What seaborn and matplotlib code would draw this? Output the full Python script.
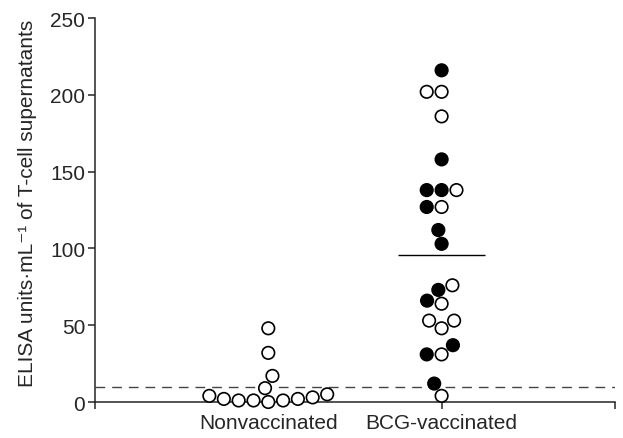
import numpy as np
import pandas as pd
import seaborn as sns
import matplotlib.pyplot as plt

# ELISA units per mL
groups = ['Nonvaccinated', 'BCG-vaccinated']
nonvac_open = [48, 32, 17, 9, 5, 4, 3, 2, 2, 1, 1, 1, 0]
bcg_filled = [216, 158, 138, 138, 127, 112, 103, 73, 66, 37, 31, 12]
bcg_open = [202, 202, 186, 138, 127, 76, 64, 53, 53, 48, 31, 4]
bcg_mean = 96
cutoff = 10

data = pd.DataFrame({
    'group': [groups[0]] * len(nonvac_open) + [groups[1]] * (len(bcg_filled) + len(bcg_open)),
    'value': nonvac_open + bcg_filled + bcg_open,
    'marker': ['open'] * len(nonvac_open) + ['filled'] * len(bcg_filled) + ['open'] * len(bcg_open),
})

sns.set_style('ticks')
plt.rcParams['font.family'] = ['Liberation Sans', 'DejaVu Sans']

fig = plt.figure(figsize=(6.23, 4.39), dpi=100)
ax = fig.add_axes([0.1525, 0.082, 0.8345, 0.8745])

sns.swarmplot(data=data, x='group', y='value', hue='marker', order=groups,
              palette={'filled': 'black', 'open': 'white'}, size=9,
              edgecolor='black', linewidth=1.2, legend=False, ax=ax)
for coll in ax.collections:
    coll.set_clip_on(False)
    coll.set_zorder(3)

ax.hlines(bcg_mean, 0.75, 1.25, color='black', lw=1)
ax.axhline(cutoff, color='#444444', lw=1, ls=(0, (7, 5)))

ax.set_xlim(-1, 2)
ax.set_ylim(0, 250)
ax.set_xticks([-1, 0, 1, 2])
ax.set_xticklabels(['', 'Nonvaccinated', 'BCG-vaccinated', ''], fontsize=15)
ax.set_yticks(np.arange(0, 251, 50))
ax.tick_params(axis='y', labelsize=15, length=5, width=1.1, pad=2)
ax.tick_params(axis='x', length=5, width=1.1, pad=3)
ax.set_xlabel('')
ax.set_ylabel('ELISA units·mL⁻¹ of T-cell supernatants', fontsize=15)
ax.yaxis.set_label_coords(-0.112, 0.52)

for side in ['left', 'bottom']:
    ax.spines[side].set_linewidth(1.1)
sns.despine(ax=ax)

fig.savefig('out.png', dpi=100)
